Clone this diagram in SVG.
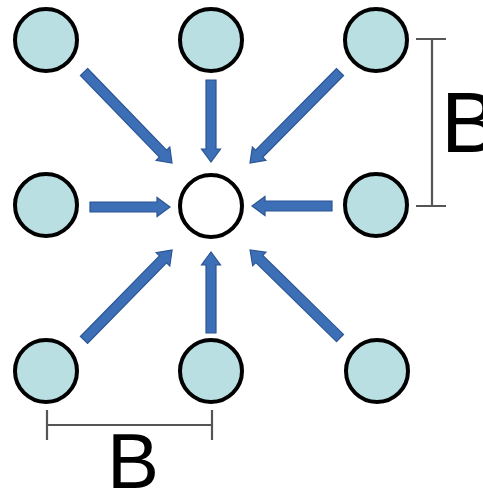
<svg xmlns="http://www.w3.org/2000/svg" width="483" height="494" viewBox="0 0 483 494">
<style>
.node{fill:#b9dfe2;stroke:#000;stroke-width:4}
.center{fill:#fff;stroke:#000;stroke-width:4}
.arrow{fill:#3d6fb6;stroke:#2b5593;stroke-width:1.2;stroke-linejoin:miter}
.dim{stroke:#555;stroke-width:2.2;fill:none}
.lbl{font-family:"Liberation Sans",Arial,sans-serif;fill:#000}
</style>
<rect width="483" height="494" fill="#fff"/>
<g id="connectors">
<path class="arrow" transform="translate(84,72) rotate(45.96)" d="M0,-5 L113.6,-5 L113.6,-9.5 L126.6,0 L113.6,9.5 L113.6,5 L0,5 Z"/>
<path class="arrow" transform="translate(211,80) rotate(90)" d="M0,-5 L69,-5 L69,-9.5 L82,0 L69,9.5 L69,5 L0,5 Z"/>
<path class="arrow" transform="translate(340,72) rotate(134.7)" d="M0,-5 L115,-5 L115,-9.5 L128,0 L115,9.5 L115,5 L0,5 Z"/>
<path class="arrow" transform="translate(90,207)" d="M0,-5 L67,-5 L67,-9.5 L80,0 L67,9.5 L67,5 L0,5 Z"/>
<path class="arrow" transform="translate(332,206) rotate(180)" d="M0,-5 L67,-5 L67,-9.5 L80,0 L67,9.5 L67,5 L0,5 Z"/>
<path class="arrow" transform="translate(84,340) rotate(-45.6)" d="M0,-5 L112.9,-5 L112.9,-9.5 L125.9,0 L112.9,9.5 L112.9,5 L0,5 Z"/>
<path class="arrow" transform="translate(211,333) rotate(-90)" d="M0,-5 L68,-5 L68,-9.5 L81,0 L68,9.5 L68,5 L0,5 Z"/>
<path class="arrow" transform="translate(340,338) rotate(-135.6)" d="M0,-5 L112.9,-5 L112.9,-9.5 L125.9,0 L112.9,9.5 L112.9,5 L0,5 Z"/>
</g>
<g id="n-tl"><circle class="node" cx="46" cy="40" r="31"/></g>
<g id="n-tm"><circle class="node" cx="211" cy="40" r="31"/></g>
<g id="n-tr"><circle class="node" cx="376" cy="40" r="31"/></g>
<g id="n-ml"><circle class="node" cx="46" cy="205" r="31"/></g>
<g id="n-c"><circle class="center" cx="211" cy="206" r="31"/></g>
<g id="n-mr"><circle class="node" cx="376" cy="205" r="31"/></g>
<g id="n-bl"><circle class="node" cx="46" cy="371" r="31"/></g>
<g id="n-bm"><circle class="node" cx="211" cy="371" r="31"/></g>
<g id="n-br"><circle class="node" cx="377" cy="371" r="31"/></g>
<g id="dim-v">
<path class="dim" d="M432,39 V206 M416,39 H446 M416,206 H446"/>
<text class="lbl" x="441" y="152" font-size="86">B</text>
</g>
<g id="dim-h">
<path class="dim" d="M47,425 H212 M47,410 V440 M212,410 V440"/>
<text class="lbl" x="107" y="488" font-size="78">B</text>
</g>
</svg>
